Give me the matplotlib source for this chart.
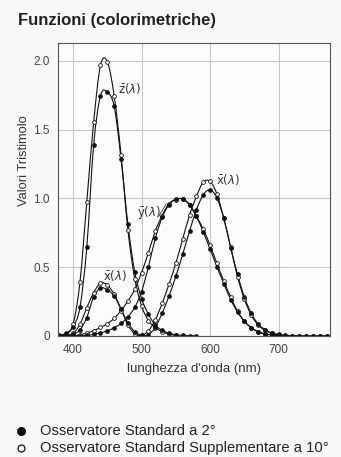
import numpy as np
import matplotlib
matplotlib.use("Agg")
import matplotlib.pyplot as plt
from matplotlib.lines import Line2D
from matplotlib.path import Path
from matplotlib.patches import PathPatch

plt.rcParams["font.family"] = ["Liberation Sans", "DejaVu Sans"]

# lunghezze d'onda (nm), passo 10
wl = np.arange(380, 790, 10)

# Osservatore standard 2 gradi (CIE 1931)
x2 = [0.0014, 0.0042, 0.0143, 0.0435, 0.1344, 0.2839, 0.3483, 0.3362, 0.2908, 0.1954,
      0.0956, 0.0320, 0.0049, 0.0093, 0.0633, 0.1655, 0.2904, 0.4334, 0.5945, 0.7621,
      0.9163, 1.0263, 1.0622, 1.0026, 0.8544, 0.6424, 0.4479, 0.2835, 0.1649, 0.0874,
      0.0468, 0.0227, 0.0114, 0.0058, 0.0029, 0.0014, 0.0007, 0.0003, 0.0002, 0.0001,
      0.0000]
y2 = [0.0000, 0.0001, 0.0004, 0.0012, 0.0040, 0.0116, 0.0230, 0.0380, 0.0600, 0.0910,
      0.1390, 0.2080, 0.3230, 0.5030, 0.7100, 0.8620, 0.9540, 0.9950, 0.9950, 0.9520,
      0.8700, 0.7570, 0.6310, 0.5030, 0.3810, 0.2650, 0.1750, 0.1070, 0.0610, 0.0320,
      0.0170, 0.0082, 0.0041, 0.0021, 0.0010, 0.0005, 0.0002, 0.0001, 0.0001, 0.0000,
      0.0000]
z2 = [0.0065, 0.0201, 0.0679, 0.2074, 0.6456, 1.3856, 1.7471, 1.7721, 1.6692, 1.2876,
      0.8130, 0.4652, 0.2720, 0.1582, 0.0782, 0.0422, 0.0203, 0.0088, 0.0039, 0.0021,
      0.0017]

# Osservatore supplementare 10 gradi (CIE 1964)
x10 = [0.0002, 0.0024, 0.0191, 0.0847, 0.2045, 0.3147, 0.3837, 0.3707, 0.3023, 0.1956,
       0.0805, 0.0162, 0.0038, 0.0375, 0.1177, 0.2365, 0.3768, 0.5298, 0.7052, 0.8787,
       1.0142, 1.1185, 1.1240, 1.0305, 0.8563, 0.6475, 0.4316, 0.2683, 0.1526, 0.0813,
       0.0409, 0.0199, 0.0096]
y10 = [0.0000, 0.0003, 0.0020, 0.0088, 0.0214, 0.0387, 0.0621, 0.0895, 0.1282, 0.1852,
       0.2536, 0.3391, 0.4608, 0.6067, 0.7618, 0.8752, 0.9620, 0.9918, 0.9973, 0.9556,
       0.8689, 0.7774, 0.6583, 0.5280, 0.3981, 0.2835, 0.1798, 0.1076, 0.0593, 0.0304,
       0.0148, 0.0071, 0.0033]
z10 = [0.0007, 0.0105, 0.0860, 0.3894, 0.9725, 1.5535, 1.9673, 1.9948, 1.7454, 1.3176,
       0.7721, 0.4153, 0.2185, 0.1120, 0.0607, 0.0305, 0.0137, 0.0040]


def smooth_path(xs, ys):
    """Curva di Catmull-Rom tra i punti, come segmenti di Bezier cubici."""
    p = np.column_stack([xs, ys]).astype(float)
    n = len(p)
    verts = [p[0]]
    codes = [Path.MOVETO]
    for i in range(n - 1):
        p0, p1 = p[max(i - 1, 0)], p[i]
        p2, p3 = p[i + 1], p[min(i + 2, n - 1)]
        verts += [p1 + (p2 - p0) / 6, p2 - (p3 - p1) / 6, p2]
        codes += [Path.CURVE4] * 3
    return Path(verts, codes)


fig = plt.figure(figsize=(3.41, 4.57), dpi=100, facecolor="#f8f9fa")
ax = fig.add_axes([58 / 341, 1 - 336 / 457, 272 / 341, 293 / 457], facecolor="#fbfcfd")

for vals, fill in [(x10, "white"), (y10, "white"), (z10, "white"),
                   (x2, "#111111"), (y2, "#111111"), (z2, "#111111")]:
    n = len(vals)
    ax.add_patch(PathPatch(smooth_path(wl[:n], vals), fill=False,
                           ec="#111111", lw=0.8))
    ax.plot(wl[:n], vals, ls="none", marker="o", ms=2.7, mfc=fill,
            mec="#111111", mew=0.6)

ax.set_xlim(378, 775)
ax.set_ylim(0, 2.13)
ax.set_xticks([400, 500, 600, 700])
ax.set_yticks([0, 0.5, 1.0, 1.5, 2.0])
ax.set_yticklabels(["0", "0.5", "1.0", "1.5", "2.0"])
ax.grid(True, color="#c4c6c8", lw=0.8)
ax.set_axisbelow(True)
ax.tick_params(length=0, labelsize=8.5, colors="#444444", pad=6)
for sp in ax.spines.values():
    sp.set_color("#555555")
    sp.set_linewidth(0.8)

ax.set_xlabel("lunghezza d'onda (nm)", fontsize=9.5, color="#333333", labelpad=5)

lab_kw = dict(fontsize=8.5, color="#333333")
ax.text(465, 1.80, r"$\bar{\mathrm{z}}(\lambda)$", va="center", ha="left", **lab_kw)
ax.text(494, 0.90, r"$\bar{\mathrm{y}}(\lambda)$", va="center", ha="left", **lab_kw)
ax.plot([525, 536], [0.87, 0.96], color="#333333", lw=0.6)
ax.text(608, 1.14, r"$\bar{\mathrm{x}}(\lambda)$", va="center", ha="left", **lab_kw)
ax.text(443, 0.44, r"$\bar{\mathrm{x}}(\lambda)$", va="center", ha="left", **lab_kw)

fig.text(18 / 341, 1 - 21 / 457, "Funzioni (colorimetriche)", fontsize=12,
         fontweight="bold", color="#222222", va="center", ha="left")
fig.text(24 / 341, 1 - 161 / 457, "Valori Tristimolo", rotation=90, fontsize=9.3,
         color="#333333", va="center", ha="center")

# legenda in basso
fig.add_artist(Line2D([21 / 341], [1 - 431 / 457], marker="o", ms=5.5,
                      mfc="#111111", mec="#111111", transform=fig.transFigure))
fig.add_artist(Line2D([21 / 341], [1 - 448 / 457], marker="o", ms=5,
                      mfc="white", mec="#111111", mew=0.9, transform=fig.transFigure))
fig.text(40 / 341, 1 - 431 / 457, "Osservatore Standard a 2°", fontsize=10.6,
         color="#222222", va="center", ha="left")
fig.text(40 / 341, 1 - 448 / 457, "Osservatore Standard Supplementare a 10°", fontsize=10.6,
         color="#222222", va="center", ha="left")

fig.savefig("out.png", dpi=100, facecolor=fig.get_facecolor())
